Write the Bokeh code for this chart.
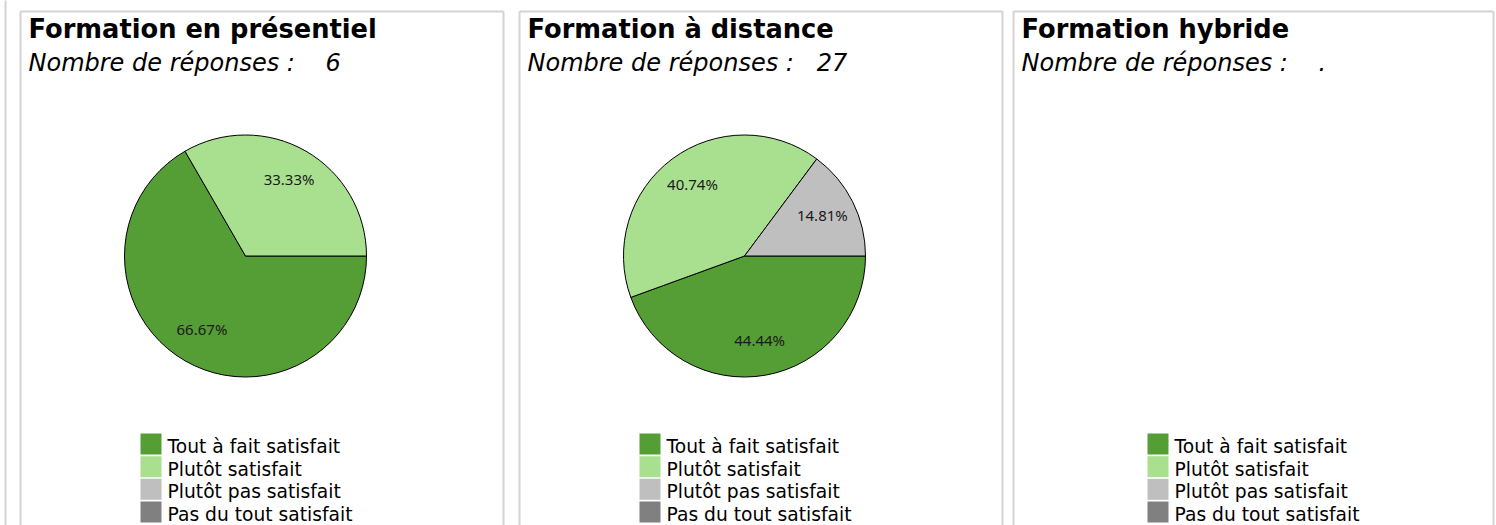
import math
from bokeh.plotting import figure
from bokeh.layouts import row
from bokeh.models import Range1d
from bokeh.core.properties import value
from bokeh.embed import file_html
from bokeh.resources import INLINE

# ---------------- data ----------------
categories = ["Tout à fait satisfait", "Plutôt satisfait", "Plutôt pas satisfait", "Pas du tout satisfait"]
colors = ["#559d35", "#a9e08f", "#bfbfbf", "#808080"]
panel_titles = ["Formation en présentiel", "Formation à distance", "Formation hybride"]
response_counts = [6, 27, None]      # None = missing value, shown as "."
presentiel = [4, 2, 0, 0]
distance = [12, 11, 4, 0]
hybride = [0, 0, 0, 0]
series = [presentiel, distance, hybride]

# ---------------- layout (page pixels) ----------------
H = 525
fig_x0 = [0, 511, 1008]
fig_w = [511, 497, 488]
panel_left = [20, 519, 1013]
panel_right = [503, 1002, 1493]
panel_top = 11
BORDER = "#d4d4d4"
PIE_DX, PIE_Y, PIE_R = 225, 255.5, 121
LABEL_R = 0.72 * PIE_R
NBSP = "\u00a0"
BASE_SHIFT = 0.38   # correction for the rendered alphabetic baseline (em)


def make_panel(i):
    x0 = fig_x0[i]
    W = fig_w[i]
    p = figure(frame_width=W, frame_height=H, min_border=0,
               x_range=Range1d(0, W), y_range=Range1d(-H, 0),
               toolbar_location=None, output_backend="svg")
    p.xaxis.visible = False
    p.yaxis.visible = False
    p.grid.visible = False
    p.outline_line_color = None
    p.background_fill_color = "white"
    p.border_fill_color = "white"

    def X(px):
        return px - x0

    def Y(py):
        return -py

    def YB(py, size):
        return -(py - BASE_SHIFT * size)

    L, R = panel_left[i], panel_right[i]
    # panel frame (left, top, right; bottom is below the visible page)
    bx0 = [X(L), X(L), X(R)]
    by0 = [Y(panel_top), Y(panel_top), Y(panel_top)]
    bx1 = [X(L), X(R), X(R)]
    by1 = [Y(H + 5), Y(panel_top), Y(H + 5)]
    if i == 0:
        bx0.append(X(5)); by0.append(Y(-5)); bx1.append(X(5)); by1.append(Y(H + 5))
    p.segment(x0=bx0, y0=by0, x1=bx1, y1=by1, line_color=BORDER, line_width=2)

    # titles
    p.text(x=[X(L + 8)], y=[YB(38, 25.7)], text=[panel_titles[i]], text_font=value("DejaVu Sans"),
           text_font_style="bold", text_font_size="25.7px", text_color="black",
           text_baseline="alphabetic", text_align="left")
    cnt = response_counts[i]
    cnt_txt = "." if cnt is None else str(cnt)
    sub = "Nombre de réponses :" + NBSP + cnt_txt.rjust(4, NBSP)
    p.text(x=[X(L + 8)], y=[YB(72, 24)], text=[sub], text_font=value("DejaVu Sans"),
           text_font_style="italic", text_font_size="24px", text_color="black",
           text_baseline="alphabetic", text_align="left")

    cx, cy = X(L + PIE_DX), Y(PIE_Y)
    vals = series[i]
    total = sum(vals)
    if total > 0:
        cum = 0.0
        starts, ends, cols, lx, ly, lt = [], [], [], [], [], []
        for v, c in zip(vals, colors):
            if v <= 0:
                continue
            f0 = cum / total
            f1 = (cum + v) / total
            cum += v
            starts.append(-2 * math.pi * f0)
            ends.append(-2 * math.pi * f1)
            cols.append(c)
            mid = -2 * math.pi * (f0 + f1) / 2
            lx.append(cx + LABEL_R * math.cos(mid))
            ly.append(cy + LABEL_R * math.sin(mid) + 2)
            lt.append(f"{100 * v / total:.2f}%")
        p.wedge(x=cx, y=cy, radius=PIE_R, start_angle=starts, end_angle=ends,
                direction="clock", fill_color=cols, line_color="black", line_width=1)
        p.text(x=lx, y=ly, text=lt, text_font=value("Noto Sans"), text_font_size="15px",
               text_color="#1a1a1a", text_align="center", text_baseline="middle")
        leg_left = L + 120
    else:
        leg_left = L + 134

    # legend
    top0 = 433
    step = 22.67
    sq = 21
    fs = 18.7
    n = len(categories)
    rx = [X(leg_left + sq / 2)] * n
    ry = [Y(top0 + k * step + sq / 2) for k in range(n)]
    p.rect(x=rx, y=ry, width=sq, height=sq, fill_color=colors, line_color=None)
    tx = [X(leg_left + sq + 6)] * n
    ty = [YB(top0 + k * step + 20, fs) for k in range(n)]
    p.text(x=tx, y=ty, text=categories, text_font=value("DejaVu Sans"), text_font_size=f"{fs}px",
           text_color="black", text_baseline="alphabetic", text_align="left")
    return p


figs = [make_panel(i) for i in range(3)]
layout = row(*figs)
open("out.html", "w").write(file_html(layout, INLINE))
